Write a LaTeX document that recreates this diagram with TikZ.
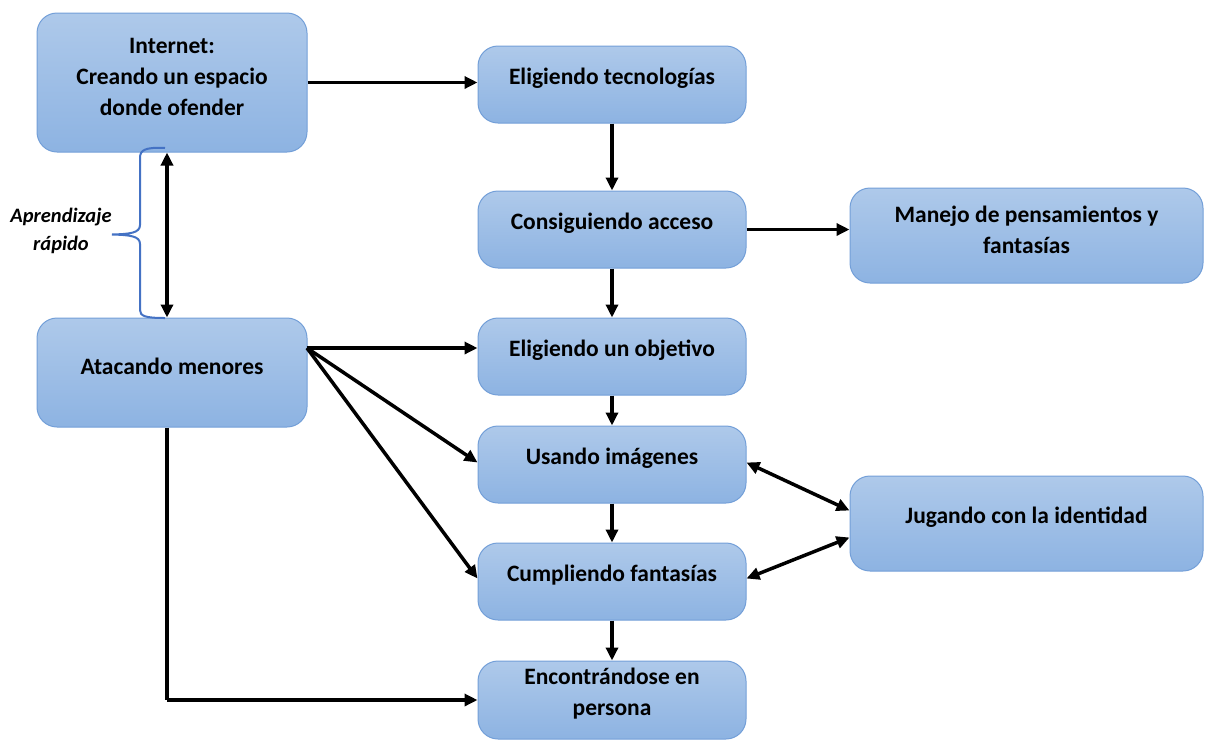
\documentclass[tikz,border=0pt]{standalone}
\usepackage{fontspec}
\setmainfont{Carlito}
\usetikzlibrary{arrows.meta,calc}
\definecolor{bxtop}{HTML}{AEC9EA}
\definecolor{bxbot}{HTML}{8DB3E2}
\definecolor{bxline}{HTML}{739FD8}
\definecolor{brc}{HTML}{4472C4}
\tikzset{
  bx/.style={rectangle, rounded corners=20pt, draw=bxline, line width=1pt, top color=bxtop, bottom color=bxbot, inner sep=0pt},
  tx/.style={align=center, font=\fontsize{23.5}{31}\selectfont\bfseries, inner sep=0pt},
  arr/.style={line width=3.5pt, -{Triangle[length=13pt,width=12pt]}},
  darr/.style={line width=3.5pt, {Triangle[length=13pt,width=12pt]}-{Triangle[length=13pt,width=12pt]}},
}
\newcommand\bx[6]{%
  \node[bx, minimum width={#4-#2}, minimum height={#5-#3}] (#1) at ({(#2+#4)/2},{(#3+#5)/2}) {};
  \node[tx] (#1t) at ({(#2+#4)/2},{(#3+#5)/2-6}) {#6};}
\begin{document}
\begin{tikzpicture}[x=1pt,y=-1pt]
\useasboundingbox (0,0) rectangle (1205,740);
\bx{net}{37}{13}{307}{152}{Internet:\\Creando un espacio\\donde ofender}
\bx{tec}{478}{46}{746}{123}{Eligiendo tecnologías}
\bx{acc}{478}{191}{746}{268}{Consiguiendo acceso}
\bx{man}{850}{188}{1203}{283}{Manejo de pensamientos y\\fantasías}
\bx{obj}{478}{318}{746}{395}{Eligiendo un objetivo}
\bx{usa}{478}{426}{746}{503}{Usando imágenes}
\bx{jug}{850}{476}{1203}{571}{Jugando con la identidad}
\bx{cum}{478}{543}{746}{620}{Cumpliendo fantasías}
\bx{enc}{478}{661}{746}{739}{Encontrándose en\\persona}
\bx{atk}{37}{318}{307}{427}{Atacando menores}
\coordinate (src) at (307,348);
\coordinate (low) at (167,700);
% arrows
\draw[arr] (net.east) -- (tec.west|-net.east);
\draw[arr] (tec.south) -- (acc.north);
\draw[arr] (acc.south) -- (obj.north);
\draw[arr] (obj.south) -- (usa.north);
\draw[arr] (usa.south) -- (cum.north);
\draw[arr] (cum.south) -- (enc.north);
\draw[arr] (acc.east) -- (man.west|-acc.east);
\draw[arr] (src) -- (obj.west|-src);
\draw[arr] (src) -- ($(usa.west)+(0,-2)$);
\draw[arr] (src) -- ($(cum.west)+(0,-3)$);
\draw[line width=3.5pt] ([xshift=-5pt]atk.south) -- (low);
\draw[arr] (low) -- (enc.west|-low);
\draw[darr] ([xshift=-5pt]net.south) -- ([xshift=-5pt]atk.north);
\draw[darr] ($(usa.east)+(0,-2)$) -- ($(jug.west)+(0,-13)$);
\draw[darr] ($(cum.east)+(0,-3)$) -- ($(jug.west)+(0,14)$);
% brace
\draw[brc, line width=2pt] (165,148) .. controls (145,147) and (140,150) .. (140,158) -- (140,225) .. controls (140,233) and (130,234) .. (112,234.5) .. controls (130,235) and (140,236) .. (140,244) -- (140,310) .. controls (140,316) and (145,318) .. (165,318);
\node[align=center, font=\fontsize{20.5}{28}\selectfont\bfseries\itshape, inner sep=0pt] (lbl) at (61,231) {Aprendizaje\\rápido};
\end{tikzpicture}
\end{document}
